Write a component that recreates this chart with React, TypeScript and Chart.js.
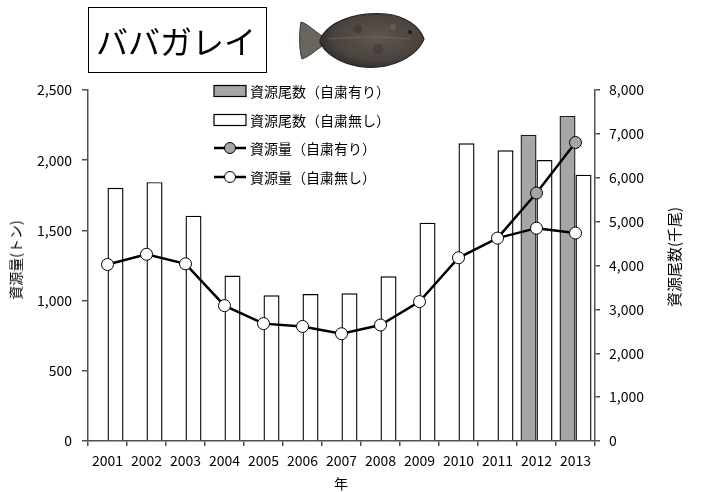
import { useEffect, useRef } from "react";
import { Chart, registerables } from "chart.js";

Chart.register(...registerables);

const years = ["2001", "2002", "2003", "2004", "2005", "2006", "2007", "2008", "2009", "2010", "2011", "2012", "2013"];
// 資源尾数 (千尾), right axis
const countWith = [null, null, null, null, null, null, null, null, null, null, null, 6980, 7410];
const countWithout = [5770, 5900, 5135, 3770, 3320, 3350, 3365, 3755, 4975, 6785, 6625, 6405, 6070];
// 資源量 (トン), left axis
const biomassWith = [null, null, null, null, null, null, null, null, null, null, 1445, 1766, 2126];
const biomassWithout = [1257, 1330, 1262, 964, 836, 816, 764, 826, 993, 1305, 1445, 1516, 1481];

const legendLabels = ["資源尾数（自粛有り）", "資源尾数（自粛無し）", "資源量（自粛有り）", "資源量（自粛無し）"];

const FONT = '"Noto Sans CJK JP", "Noto Sans", sans-serif';
const AXIS = "#505050";

function Fish() {
  return (
    <svg width="130" height="64" style={{ position: "absolute", left: 298, top: 9 }} viewBox="0 0 130 64">
      <defs>
        <radialGradient id="fb" cx="0.55" cy="0.45" r="0.6">
          <stop offset="0" stopColor="#5e5650" />
          <stop offset="0.7" stopColor="#4a433e" />
          <stop offset="1" stopColor="#2f2b29" />
        </radialGradient>
      </defs>
      <path d="M24,27 C14,20 8,14 3,13 C1,22 1,42 4,50 C10,48 16,43 24,37 Z" fill="#6b6560" stroke="#3a3634" strokeWidth="1" />
      <path d="M22,31 C30,12 58,3 88,5 C108,7 122,18 126,30 C122,40 110,52 88,57 C60,62 32,52 22,34 Z" fill="url(#fb)" stroke="#2a2624" strokeWidth="1.2" />
      <path d="M30,30 C55,28 85,27 112,30" stroke="#7a736c" strokeWidth="1" fill="none" opacity="0.6" />
      <circle cx="112" cy="23" r="2" fill="#1e1b1a" />
      <circle cx="60" cy="20" r="4" fill="#3a3431" opacity="0.6" />
      <circle cx="80" cy="40" r="5" fill="#3a3431" opacity="0.5" />
      <circle cx="95" cy="18" r="3" fill="#6f6760" opacity="0.6" />
    </svg>
  );
}

function LegendSymbol({ kind }: { kind: number }) {
  if (kind < 2) {
    return (
      <svg width="34" height="14" style={{ position: "absolute", left: 213, top: -7 }}>
        <rect x="1" y="1.5" width="32" height="11" fill={kind === 0 ? "#a6a6a6" : "#ffffff"} stroke="#000" strokeWidth="1.2" />
      </svg>
    );
  }
  return (
    <svg width="34" height="14" style={{ position: "absolute", left: 213, top: -7 }}>
      <line x1="1" y1="7" x2="33" y2="7" stroke="#000" strokeWidth="2.5" />
      <circle cx="17" cy="7" r="5.5" fill={kind === 2 ? "#a6a6a6" : "#ffffff"} stroke="#000" strokeWidth="1" />
    </svg>
  );
}

export default function App() {
  const canvasEl: any = useRef(null);

  useEffect(() => {
    const ctx = canvasEl.current.getContext("2d");
    const fmt = (v: any) => Number(v).toLocaleString("en-US");

    const config: any = {
      data: {
        labels: years,
        datasets: [
          {
            type: "line",
            label: legendLabels[3],
            data: biomassWithout,
            yAxisID: "y",
            borderColor: "#000",
            borderWidth: 2.5,
            pointRadius: 6,
            pointBackgroundColor: "#ffffff",
            pointBorderColor: "#000",
            pointBorderWidth: 1,
            order: 0,
          },
          {
            type: "line",
            label: legendLabels[2],
            data: biomassWith,
            yAxisID: "y",
            borderColor: "#000",
            borderWidth: 2.5,
            pointRadius: biomassWith.map((v, i) => (v === null || i === 10 ? 0 : 6)),
            pointBackgroundColor: "#a6a6a6",
            pointBorderColor: "#000",
            pointBorderWidth: 1,
            order: 1,
          },
          {
            type: "bar",
            label: legendLabels[0],
            data: countWith,
            yAxisID: "y2",
            backgroundColor: "#a6a6a6",
            borderColor: "#1a1a1a",
            borderWidth: 1.4,
            categoryPercentage: 0.82,
            barPercentage: 1.0,
            order: 2,
          },
          {
            type: "bar",
            label: legendLabels[1],
            data: countWithout,
            yAxisID: "y2",
            backgroundColor: "#ffffff",
            borderColor: "#000",
            borderWidth: 1.4,
            categoryPercentage: 0.82,
            barPercentage: 1.0,
            order: 2,
          },
        ],
      },
      options: {
        responsive: false,
        animation: false,
        devicePixelRatio: 1,
        layout: { padding: { top: 90, left: 0, right: 0, bottom: 0 } },
        plugins: { legend: { display: false }, tooltip: { enabled: false } },
        scales: {
          x: {
            type: "category",
            offset: true,
            afterFit: (s: any) => {
              s.height = 51;
            },
            grid: { display: true, drawOnChartArea: false, drawTicks: true, tickLength: 5, color: AXIS, lineWidth: 1.5, offset: true },
            border: { display: true, color: AXIS, width: 1.5 },
            ticks: { color: "#000", font: { family: FONT, size: 14 }, padding: 6, maxRotation: 0, autoSkip: false },
          },
          y: {
            position: "left",
            min: 0,
            max: 2500,
            afterFit: (s: any) => {
              s.width = 88;
            },
            grid: { display: true, drawOnChartArea: false, drawTicks: true, tickLength: 6, color: AXIS, lineWidth: 1.5 },
            border: { display: true, color: AXIS, width: 1.5 },
            ticks: { stepSize: 500, color: "#000", font: { family: FONT, size: 14 }, padding: 10, callback: fmt },
          },
          y2: {
            position: "right",
            min: 0,
            max: 8000,
            afterFit: (s: any) => {
              s.width = 110;
            },
            grid: { display: true, drawOnChartArea: false, drawTicks: true, tickLength: 5, color: AXIS, lineWidth: 1.5 },
            border: { display: true, color: AXIS, width: 1.5 },
            ticks: { stepSize: 1000, color: "#000", font: { family: FONT, size: 14 }, padding: 9, callback: fmt },
          },
        },
      },
    };

    const chart = new Chart(ctx, config);
    return () => {
      chart.destroy();
    };
  }, []);

  const rows = [91, 120, 148, 177];

  return (
    <div style={{ position: "absolute", left: 0, top: 0, width: 705, height: 492, background: "#fff", fontFamily: FONT, color: "#000" }}>
      <canvas ref={canvasEl} width={705} height={492} style={{ position: "absolute", left: 0, top: 0 }} />
      <div
        style={{
          position: "absolute",
          left: 88,
          top: 7,
          width: 179,
          height: 66,
          border: "1px solid #000",
          fontSize: 32,
          lineHeight: "32px",
          boxSizing: "border-box",
          paddingLeft: 7,
          paddingTop: 16,
          whiteSpace: "nowrap",
        }}
      >
        ババガレイ
      </div>
      <Fish />
      {rows.map((y, i) => (
        <div key={i} style={{ position: "absolute", left: 0, top: y, height: 0 }}>
          <LegendSymbol kind={i} />
          <div style={{ position: "absolute", left: 250, top: -10, fontSize: 14, lineHeight: "20px", whiteSpace: "nowrap" }}>{legendLabels[i]}</div>
        </div>
      ))}
      <div
        style={{
          position: "absolute",
          left: 15,
          top: 260,
          transform: "translate(-50%, -50%) rotate(-90deg)",
          fontSize: 14,
          lineHeight: "16px",
          whiteSpace: "nowrap",
        }}
      >
        資源量(トン)
      </div>
      <div
        style={{
          position: "absolute",
          left: 674,
          top: 257,
          transform: "translate(-50%, -50%) rotate(-90deg)",
          fontSize: 15,
          lineHeight: "16px",
          whiteSpace: "nowrap",
        }}
      >
        資源尾数(千尾)
      </div>
      <div style={{ position: "absolute", left: 341, top: 483, transform: "translate(-50%, -50%)", fontSize: 14, lineHeight: "16px" }}>年</div>
    </div>
  );
}
